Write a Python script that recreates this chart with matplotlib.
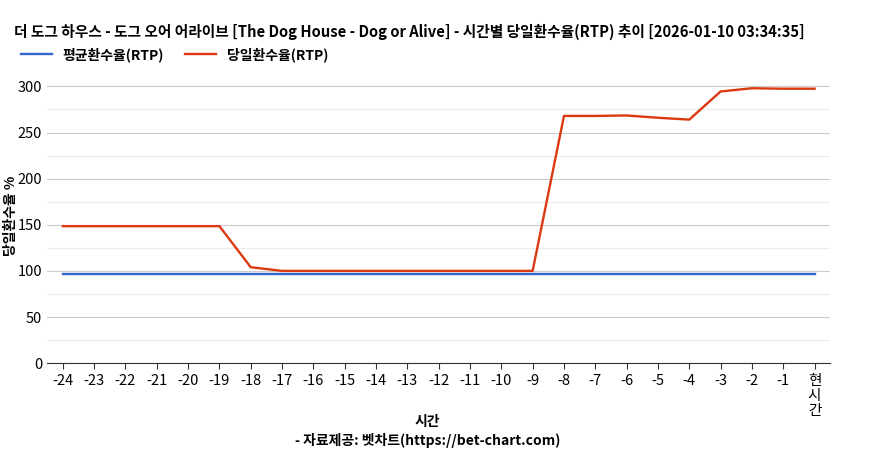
import matplotlib.pyplot as plt

plt.rcParams['font.family'] = ['Noto Sans CJK KR', 'DejaVu Sans']

# chart data
hours = ['-24', '-23', '-22', '-21', '-20', '-19', '-18', '-17', '-16', '-15', '-14', '-13',
         '-12', '-11', '-10', '-9', '-8', '-7', '-6', '-5', '-4', '-3', '-2', '-1', '현\n시\n간']
avg_rtp = [96.5] * 25
day_rtp = [148.5, 148.5, 148.5, 148.5, 148.5, 148.5, 104, 100, 100, 100, 100, 100,
           100, 100, 100, 100, 268, 268, 268.5, 266, 264, 294.5, 298, 297.5, 297.5]
title = '더 도그 하우스 - 도그 오어 어라이브 [The Dog House - Dog or Alive] - 시간별 당일환수율(RTP) 추이 [2026-01-10 03:34:35]'

fig = plt.figure(figsize=(8.73, 4.5), dpi=100)
ax = fig.add_axes([0.054, 0.193, 0.897, 0.656])
x = list(range(len(hours)))

for v in range(0, 325, 25):
    ax.axhline(v, color='#cccccc' if v % 50 == 0 else '#ebebeb', lw=0.8, zorder=0)

ax.plot(x, avg_rtp, color='#3366cc', lw=1.7, label='평균환수율(RTP)')
ax.plot(x, day_rtp, color='#dc3912', lw=1.7, label='당일환수율(RTP)')

ax.set_xlim(-0.5, len(hours) - 0.5)
ax.set_ylim(0, 320)
ax.set_yticks(range(0, 301, 50))
ax.set_xticks(x)
ax.set_xticklabels(hours, fontsize=10.5, linespacing=1.1)
ax.tick_params(axis='y', labelsize=10.5, length=0)
ax.tick_params(axis='x', length=4, color='#333333')
for s in ['top', 'right', 'left']:
    ax.spines[s].set_visible(False)
ax.spines['bottom'].set_color('#333333')

ax.set_ylabel('당일환수율 %', fontsize=10, fontweight='bold', labelpad=0)
fig.text(0.016, 0.93, title, fontsize=10.6, fontweight='bold', ha='left', va='center')
fig.legend(loc='center left', bbox_to_anchor=(0.01, 0.878), ncol=2, frameon=False,
           prop={'weight': 'bold', 'size': 10}, handlelength=2.2, columnspacing=1.5)
fig.text(0.49, 0.062, '시간', fontsize=10, fontweight='bold', ha='center', va='center')
fig.text(0.49, 0.022, '- 자료제공: 벳차트(https://bet-chart.com)', fontsize=10, fontweight='bold',
         ha='center', va='center')

fig.savefig('out.png', dpi=100)
